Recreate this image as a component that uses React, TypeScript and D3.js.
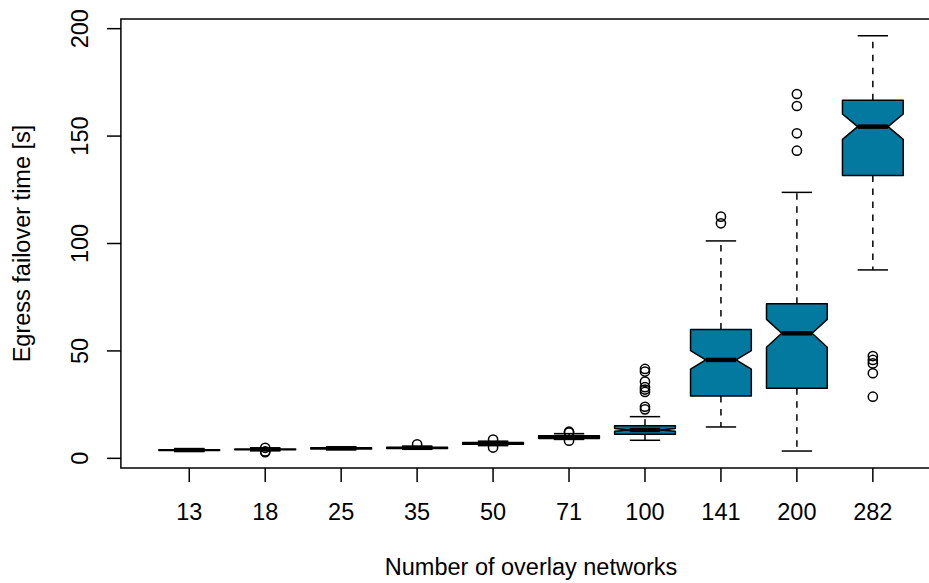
import React from "react";
import * as d3 from "d3";

// Number of overlay networks (one box per group)
const categories = ["13", "18", "25", "35", "50", "71", "100", "141", "200", "282"];

// Five-number summaries of egress failover time [s]
const whiskerLow = [3.3, 3.7, 4.1, 4.3, 5.9, 8.8, 8.4, 14.6, 3.4, 87.7];
const q1 = [3.6, 4.0, 4.4, 4.6, 6.6, 9.2, 11.2, 29.0, 32.6, 131.7];
const median = [3.85, 4.2, 4.65, 4.9, 7.0, 9.9, 13.2, 45.8, 58.2, 154.4];
const q3 = [4.05, 4.4, 4.9, 5.2, 7.4, 10.5, 15.2, 60.0, 72.0, 166.7];
const whiskerHigh = [4.4, 4.6, 5.3, 5.6, 8.0, 11.5, 19.4, 101.2, 123.8, 196.7];

// Half-height of the median notch (confidence interval)
const notchHalf = [0.05, 0.05, 0.06, 0.07, 0.1, 0.15, 0.63, 4.3, 6.5, 5.9];

// Points beyond the whiskers
const outliers: number[][] = [
  [],
  [2.9, 3.2, 4.9],
  [],
  [6.5],
  [8.7, 5.0],
  [12.4, 12.0, 8.2],
  [41.6, 40.4, 35.7, 33.1, 32.0, 30.9, 24.0, 22.8],
  [112.5, 109.4],
  [169.6, 164.0, 151.3, 143.2],
  [47.6, 45.8, 44.2, 39.6, 28.7],
];

const yTicks = [0, 50, 100, 150, 200];

const FILL = "#0479A0";
const FONT = "'Liberation Sans', Arial, Helvetica, sans-serif";
const FS = 23.5;

export default function App() {
  const W = 929;
  const H = 583;
  const left = 120.9;
  const right = 941.2;
  const top = 19;
  const bottom = 468;

  const x = d3.scaleLinear().domain([0.1, 10.9]).range([left, right]);
  const y = d3.scaleLinear().domain([-4.5, 204.5]).range([bottom, top]);

  const halfW = ((x(1) - x(0)) * 0.8) / 2;
  const nf = 0.5;
  const lw = 1.5;

  return (
    <svg
      width={W}
      height={H}
      viewBox={`0 0 ${W} ${H}`}
      style={{ position: "absolute", left: 0, top: 0, background: "#fff" }}
      fontFamily={FONT}
    >
      <defs>
        <clipPath id="plot-area">
          <rect x={left} y={top} width={right - left} height={bottom - top} />
        </clipPath>
      </defs>

      <g clipPath="url(#plot-area)">
        {categories.map((c, i) => {
          const cx = x(i + 1);
          const pts: [number, number][] = [
            [cx - halfW, y(q1[i])],
            [cx + halfW, y(q1[i])],
            [cx + halfW, y(median[i] - notchHalf[i])],
            [cx + halfW * nf, y(median[i])],
            [cx + halfW, y(median[i] + notchHalf[i])],
            [cx + halfW, y(q3[i])],
            [cx - halfW, y(q3[i])],
            [cx - halfW, y(median[i] + notchHalf[i])],
            [cx - halfW * nf, y(median[i])],
            [cx - halfW, y(median[i] - notchHalf[i])],
          ];
          const poly = d3.line()(pts) + "Z";
          const capW = halfW * 0.5;
          return (
            <g key={c}>
              {/* whiskers */}
              <line
                x1={cx}
                x2={cx}
                y1={y(q3[i])}
                y2={y(whiskerHigh[i])}
                stroke="#000"
                strokeWidth={lw}
                strokeDasharray="6.5,6.5"
              />
              <line
                x1={cx}
                x2={cx}
                y1={y(q1[i])}
                y2={y(whiskerLow[i])}
                stroke="#000"
                strokeWidth={lw}
                strokeDasharray="6.5,6.5"
              />
              <line
                x1={cx - capW}
                x2={cx + capW}
                y1={y(whiskerHigh[i])}
                y2={y(whiskerHigh[i])}
                stroke="#000"
                strokeWidth={lw}
              />
              <line
                x1={cx - capW}
                x2={cx + capW}
                y1={y(whiskerLow[i])}
                y2={y(whiskerLow[i])}
                stroke="#000"
                strokeWidth={lw}
              />
              {/* notched box */}
              <path d={poly} fill={FILL} stroke="#000" strokeWidth={lw} strokeLinejoin="round" />
              {/* median */}
              <line
                x1={cx - halfW * nf}
                x2={cx + halfW * nf}
                y1={y(median[i])}
                y2={y(median[i])}
                stroke="#000"
                strokeWidth={4.5}
              />
              {/* outliers */}
              {outliers[i].map((v, k) => (
                <circle key={k} cx={cx} cy={y(v)} r={4.6} fill="none" stroke="#000" strokeWidth={lw} />
              ))}
            </g>
          );
        })}
      </g>

      {/* plot frame */}
      <rect x={left} y={top} width={right - left} height={bottom - top} fill="none" stroke="#000" strokeWidth={lw} />

      {/* y axis */}
      {yTicks.map((t) => (
        <g key={t}>
          <line x1={left - 14} x2={left} y1={y(t)} y2={y(t)} stroke="#000" strokeWidth={lw} />
          <text
            transform={`translate(87.5, ${y(t)}) rotate(-90)`}
            textAnchor="middle"
            fontSize={FS}
            fill="#000"
          >
            {t}
          </text>
        </g>
      ))}

      {/* x axis */}
      {categories.map((c, i) => (
        <g key={c}>
          <line x1={x(i + 1)} x2={x(i + 1)} y1={bottom} y2={bottom + 14} stroke="#000" strokeWidth={lw} />
          <text x={x(i + 1)} y={520} textAnchor="middle" fontSize={FS} fill="#000">
            {c}
          </text>
        </g>
      ))}

      {/* axis titles */}
      <text x={(left + right) / 2} y={575} textAnchor="middle" fontSize={FS} fill="#000">
        Number of overlay networks
      </text>
      <text
        transform={`translate(29.5, ${(top + bottom) / 2}) rotate(-90)`}
        textAnchor="middle"
        fontSize={FS}
        fill="#000"
      >
        Egress failover time [s]
      </text>
    </svg>
  );
}
